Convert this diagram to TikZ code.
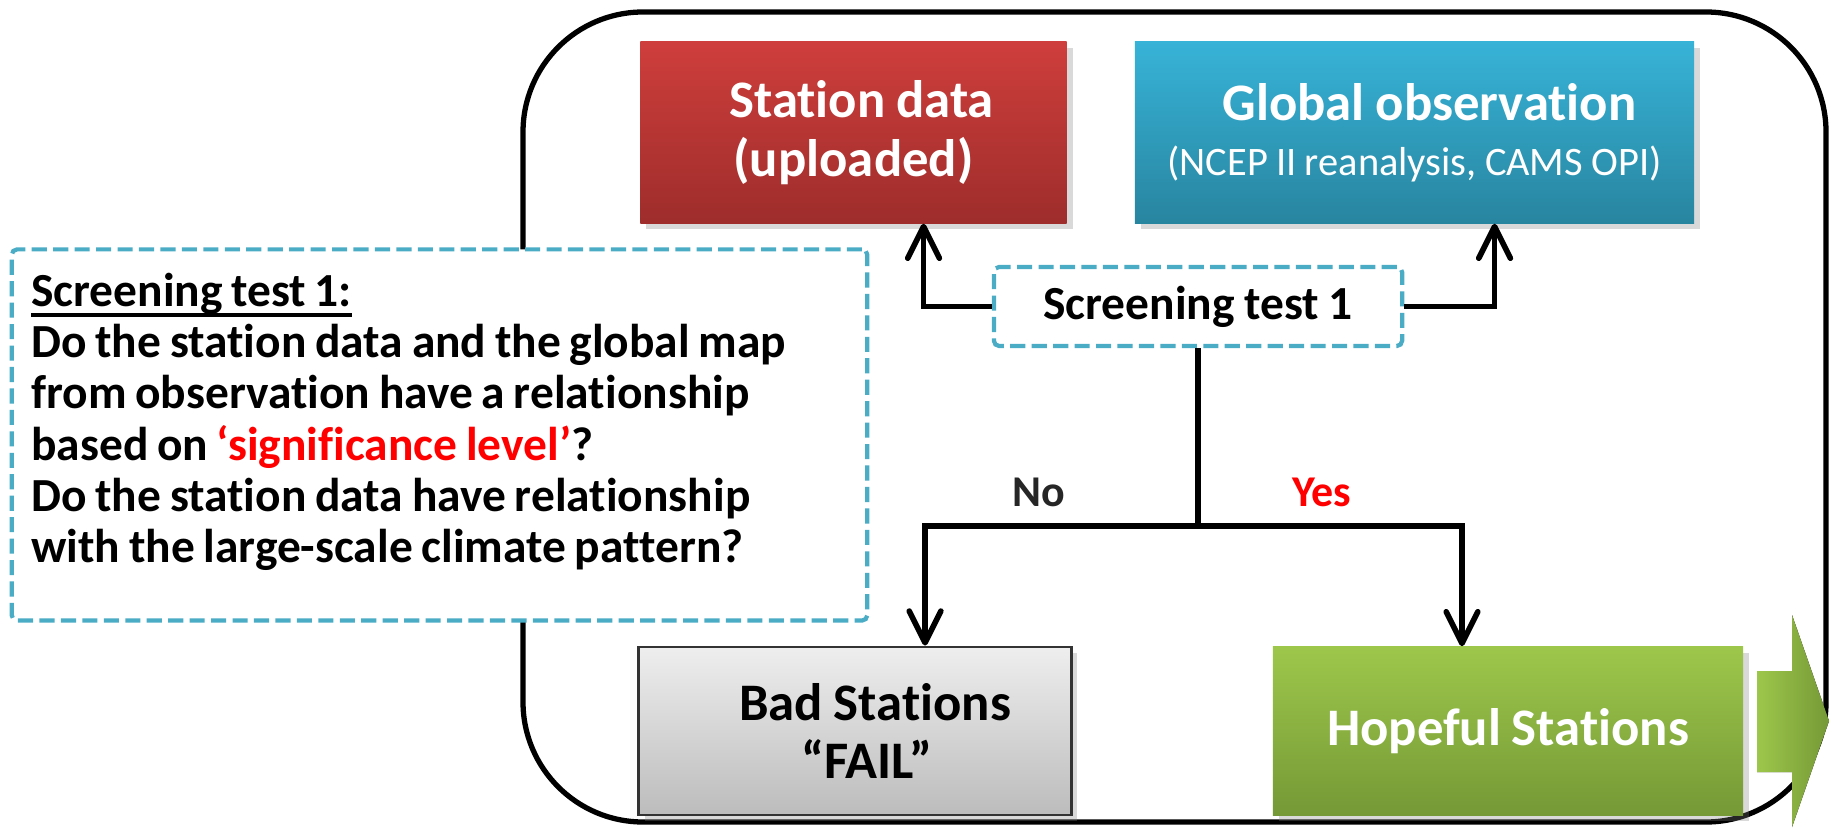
\documentclass[tikz,border=0pt]{standalone}
\usepackage{fontspec}
\setmainfont{Carlito}[Ligatures={TeX,NoCommon}]
\newfontfamily\questfont{Carlito}[Ligatures={TeX,NoCommon}, WordSpace=0.9]
\usepackage{xcolor}
\usetikzlibrary{arrows.meta, positioning, shadows}

\definecolor{redtop}{HTML}{CE3E3C}
\definecolor{redbot}{HTML}{9E2D2B}
\definecolor{bluetop}{HTML}{37B3D7}
\definecolor{bluebot}{HTML}{2885A0}
\definecolor{greytop}{HTML}{EEEEEE}
\definecolor{greybot}{HTML}{BCBCBC}
\definecolor{greentop}{HTML}{9DC74B}
\definecolor{greenbot}{HTML}{759936}
\definecolor{dashblue}{HTML}{4BACC6}

% thick underline for the heading
\newcommand{\ulhead}[1]{\setbox0\hbox{#1}\rlap{\rule[-3pt]{\wd0}{1pt}}\box0}

\tikzset{
  tbox/.style={align=center, inner sep=0pt, font=\fontsize{15}{16.6}\selectfont\bfseries,
    drop shadow={shadow xshift=.6mm, shadow yshift=-.6mm, opacity=.3}},
  redbox/.style={tbox, text=white, top color=redtop, bottom color=redbot,
    minimum width=4.26cm, minimum height=1.81cm},
  bluebox/.style={tbox, text=white, top color=bluetop, bottom color=bluebot,
    minimum width=5.59cm, minimum height=1.81cm},
  greybox/.style={tbox, draw=black!80, line width=.8pt, top color=greytop, bottom color=greybot,
    minimum width=4.32cm, minimum height=1.68cm},
  greenbox/.style={tbox, text=white, top color=greentop, bottom color=greenbot,
    minimum width=4.70cm, minimum height=1.68cm},
  dashbox/.style={draw=dashblue, line width=1.2pt, dash pattern=on 4.3pt off 1.8pt,
    rounded corners=1.5pt, fill=white},
  link/.style={line width=1.6pt},
  flow/.style={link, -{Straight Barb[length=9pt,width=9pt,round]}},
  branch/.style={font=\fontsize{12.5}{14}\selectfont\bfseries}
}

\begin{document}
\begin{tikzpicture}[x=0.01cm, y=-0.01cm]
  \useasboundingbox (0,0) rectangle (1834,828);

  % outer frame
  \draw[line width=1.5pt, rounded corners=1.2cm] (523,12) rectangle (1826,822);

  % data sources
  \node[redbox] (station) at (853.5,132.5) {\hspace*{0.16cm}Station data\\(uploaded)};
  \node[bluebox] (global) at (1414.5,132.5) {\hspace*{0.3cm}Global observation\\[-1pt]
    {\fontsize{11.5}{13}\selectfont\mdseries (NCEP II reanalysis, CAMS OPI)}};

  % test box
  \node[dashbox, minimum width=4.08cm, minimum height=0.79cm, font=\fontsize{13.5}{15}\selectfont\bfseries]
    (screen) at (1198,306.5) {Screening test 1};

  % question box
  \node[dashbox, minimum width=8.55cm, minimum height=3.71cm] (question) at (439.5,435) {};
  \node[align=left, inner sep=0pt, anchor=west, yshift=0.13cm,
    font=\questfont\fontsize{13.5}{14.6}\selectfont\bfseries]
    (qtext) at ([xshift=0.21cm]question.west)
    {\ulhead{Screening test 1:}\\
     Do the station data and the global map\\
     from observation have a relationship\\
     based on \textcolor{red}{`significance level'}?\\
     Do the station data have relationship\\
     with the large-scale climate pattern?};

  % results
  \node[greybox] (bad) at (855,731) {\hspace*{0.4cm}Bad Stations\\\hspace*{0.24cm}``FAIL''};
  \node[greenbox] (hopeful) at (1508,731) {Hopeful Stations};

  % connectors
  \coordinate (split) at (1198,526);
  \draw[flow] (screen.west) -| ([xshift=7mm]station.south);
  \draw[flow] (screen.east) -| ([xshift=8mm]global.south);
  \draw[link] (screen.south) -- (split);
  \draw[flow] (split) -| ([xshift=7mm]bad.north);
  \draw[flow] (split) -| ([xshift=-4.6mm]hopeful.north);
  \node[branch, text=black!85] (no) at (1039,492) {No};
  \node[branch, text=red] (yes) at (1322,492) {Yes};

  % next step arrow
  \fill[left color=greentop, right color=greenbot]
    (1757,671) -- (1792,671) -- (1792,615) -- (1829,721) -- (1792,827)
    -- (1792,772) -- (1757,772) -- cycle;
\end{tikzpicture}
\end{document}
